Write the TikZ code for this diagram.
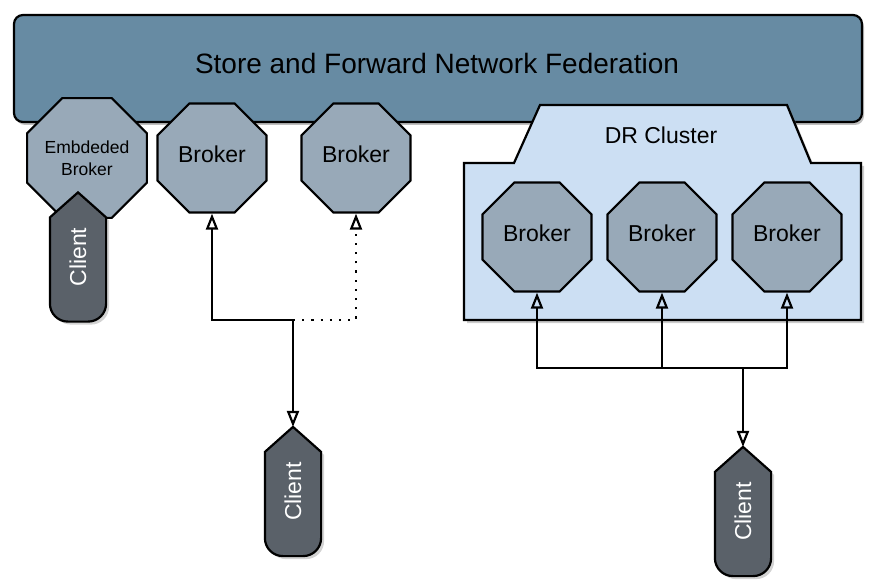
\documentclass[tikz,border=0pt]{standalone}
\usepackage{fontspec}
\setmainfont{Liberation Sans}
\usetikzlibrary{shapes.geometric,arrows.meta,shadows,positioning}

\definecolor{fedblue}{RGB}{103,139,163}
\definecolor{brokergray}{RGB}{152,169,184}
\definecolor{clientgray}{RGB}{90,97,105}
\definecolor{drblue}{RGB}{204,223,243}

\begin{document}
\begin{tikzpicture}[x=1pt,y=-1pt,line width=2.2pt,
    broker/.style = {draw, regular polygon, regular polygon sides=8, minimum size=118pt, inner sep=0pt, fill=brokergray, text depth=8pt, font=\fontsize{23}{27}\selectfont},
    client/.style = {minimum width=54pt, minimum height=127pt, inner sep=0pt, text=white, font=\fontsize{23}{27}\selectfont},
    outline/.style = {draw, fill=clientgray, drop shadow={shadow xshift=3pt, shadow yshift=-3pt, opacity=0.35}},
    arr/.style = {-{Triangle[open, length=16pt, width=12pt]}},
    node distance={125pt}]
    \useasboundingbox (0,0) rectangle (876,588);

    % federation banner
    \node[draw, rounded corners=9pt, fill=fedblue, minimum width=848pt, minimum height=107pt, drop shadow={shadow xshift=2pt, shadow yshift=-3pt, opacity=0.5}] (fed) at (438,68.5) {};
    \node[font=\fontsize{28}{32}\selectfont] (fedlabel) at (437,63) {Store and Forward Network Federation};

    % DR cluster
    \draw[fill=drblue, drop shadow={shadow xshift=3pt, shadow yshift=-3pt, opacity=0.4}] (464,163) -- (514,163) -- (540,105) -- (787,105) -- (811,163) -- (861,163) -- (861,320) -- (464,320) -- cycle;
    \node[font=\fontsize{23}{27}\selectfont] (drlabel) at (661,135) {DR Cluster};

    % brokers
    \node[broker, font=\fontsize{17.5}{22}\selectfont, align=center, text depth=0pt] (eb) at (87,158) {Embdeded\\Broker};
    \node[broker] (b1) [right of=eb] {Broker};
    \node[broker] (b2) at (356,158) {Broker};
    \node[broker] (d1) at (537,237) {Broker};
    \node[broker] (d2) [right of=d1] {Broker};
    \node[broker] (d3) [right of=d2] {Broker};

    % clients
    \node[client] (c1) at (78,257) {};
    \node[client] (c2) at (293,491.5) {};
    \node[client] (c3) at (743,511.5) {};
    \foreach \c in {c1,c2,c3} {
        \path[outline] (\c.north) -- ([yshift=-25pt]\c.north east) -- ([yshift=18pt]\c.south east)
            arc[start angle=0, end angle=-90, radius=18pt] -- ([xshift=18pt]\c.south west)
            arc[start angle=270, end angle=180, radius=18pt] -- ([yshift=-25pt]\c.north west) -- cycle;
        \node[text=white, font=\fontsize{23}{27}\selectfont] at (\c) {\rotatebox{90}{Client}};
    }

    % connectors
    \coordinate (j1) at (293,320);
    \coordinate (j2) at (743,368);
    \draw[arr] (j1) -| (b1);
    \draw[arr, dash pattern=on 2.2pt off 7pt] (j1) -| (b2);
    \draw[arr] (j1) -- (c2.north);
    \draw[arr] (j2) -| (d1);
    \draw[arr] (j2) -| (d3);
    \draw[arr] (d2 |- j2) -- (d2);
    \draw[arr] (j2) -- (c3.north);
\end{tikzpicture}
\end{document}
